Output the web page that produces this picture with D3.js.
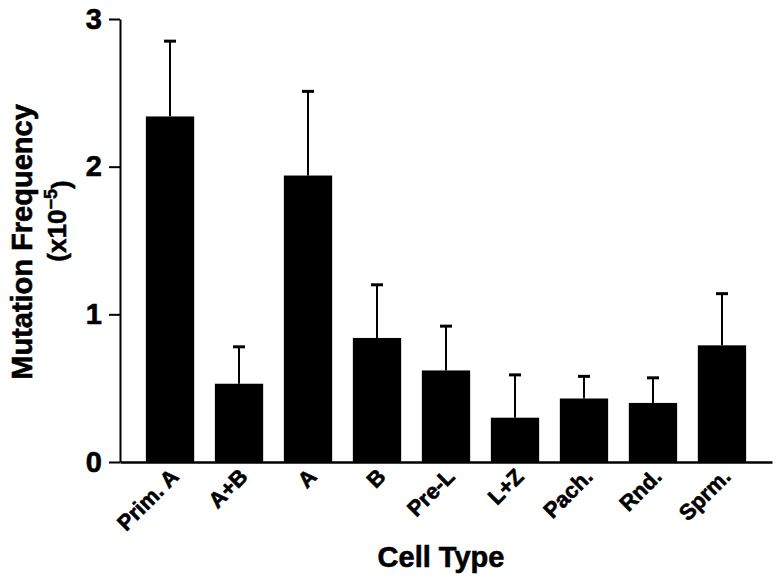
<!DOCTYPE html>
<html>
<head>
<meta charset="utf-8">
<script src="https://cdn.jsdelivr.net/npm/d3@7"></script>
<style>
  body { margin: 0; background: #fff; }
  text { font-family: "Liberation Sans", Arial, sans-serif; font-weight: bold; }
</style>
</head>
<body>
<div id="chart"></div>
<script>
// Data
const categories = ["Prim. A", "A+B", "A", "B", "Pre-L", "L+Z", "Pach.", "Rnd.", "Sprm."];
const meanValues = [2.34, 0.53, 1.94, 0.84, 0.62, 0.30, 0.43, 0.40, 0.79];
const errorValues = [0.51, 0.25, 0.57, 0.36, 0.30, 0.29, 0.15, 0.17, 0.35];
const yTicks = [0, 1, 2, 3];

const width = 781;
const height = 584;

const svg = d3.select("#chart")
    .append("svg")
    .attr("width", width)
    .attr("height", height);

// Scales
const xScale = d3.scaleBand()
    .domain(categories)
    .range([120, 772])
    .paddingInner(0.3)
    .paddingOuter(0.375);

const yScale = d3.scaleLinear()
    .domain([0, 3])
    .range([462, 19]);

const data = categories.map((c, i) => ({ category: c, mean: meanValues[i], err: errorValues[i] }));

// Error bars (upper only)
svg.selectAll(".err-line")
    .data(data)
    .enter()
    .append("line")
    .attr("class", "err-line")
    .attr("x1", d => xScale(d.category) + xScale.bandwidth() / 2)
    .attr("x2", d => xScale(d.category) + xScale.bandwidth() / 2)
    .attr("y1", d => yScale(d.mean))
    .attr("y2", d => yScale(d.mean + d.err))
    .attr("stroke", "#000")
    .attr("stroke-width", 2);

svg.selectAll(".err-cap")
    .data(data)
    .enter()
    .append("line")
    .attr("class", "err-cap")
    .attr("x1", d => xScale(d.category) + xScale.bandwidth() / 2 - 6)
    .attr("x2", d => xScale(d.category) + xScale.bandwidth() / 2 + 6)
    .attr("y1", d => yScale(d.mean + d.err))
    .attr("y2", d => yScale(d.mean + d.err))
    .attr("stroke", "#000")
    .attr("stroke-width", 3);

// Bars
svg.selectAll(".bar")
    .data(data)
    .enter()
    .append("rect")
    .attr("class", "bar")
    .attr("x", d => xScale(d.category))
    .attr("y", d => yScale(d.mean))
    .attr("width", xScale.bandwidth())
    .attr("height", d => yScale(0) - yScale(d.mean))
    .attr("fill", "#000");

// Y axis
const yAxisGroup = svg.append("g")
    .attr("transform", "translate(120,0)")
    .call(d3.axisLeft(yScale).tickValues(yTicks).tickFormat(d3.format("d")).tickSize(11).tickPadding(7).tickSizeOuter(0));
yAxisGroup.select(".domain").attr("stroke-width", 2);
yAxisGroup.selectAll(".tick line").attr("stroke-width", 2);
yAxisGroup.selectAll(".tick text")
    .style("font-size", "29px")
    .attr("fill", "#000")
    .attr("stroke", "#000")
    .attr("stroke-width", 0.6);

// X axis
const xAxisGroup = svg.append("g")
    .attr("transform", `translate(0,${yScale(0)})`)
    .call(d3.axisBottom(xScale).tickSize(0).tickSizeOuter(0));
xAxisGroup.select(".domain").attr("stroke-width", 2.5);
xAxisGroup.selectAll(".tick text")
    .style("font-size", "22px")
    .attr("fill", "#000")
    .attr("stroke", "#000")
    .attr("stroke-width", 0.6)
    .attr("text-anchor", "end")
    .attr("dy", 0)
    .attr("y", 0)
    .attr("transform", "translate(10,16) rotate(-45)");

// Axis titles
svg.append("text")
    .attr("x", 441)
    .attr("y", 567)
    .attr("text-anchor", "middle")
    .attr("stroke", "#000")
    .attr("stroke-width", 0.6)
    .style("font-size", "29px")
    .text("Cell Type");

svg.append("text")
    .attr("transform", "translate(32,242) rotate(-90)")
    .attr("text-anchor", "middle")
    .attr("stroke", "#000")
    .attr("stroke-width", 0.6)
    .style("font-size", "29px")
    .text("Mutation Frequency");

const subTitle = svg.append("text")
    .attr("transform", "translate(66,221) rotate(-90)")
    .attr("text-anchor", "middle")
    .attr("stroke", "#000")
    .attr("stroke-width", 0.5)
    .style("font-size", "26px");
subTitle.append("tspan").text("(x10");
subTitle.append("tspan").attr("dy", "-0.5em").style("font-size", "18px").text("\u22125");
subTitle.append("tspan").attr("dy", "0.5em").text(")");
</script>
</body>
</html>
